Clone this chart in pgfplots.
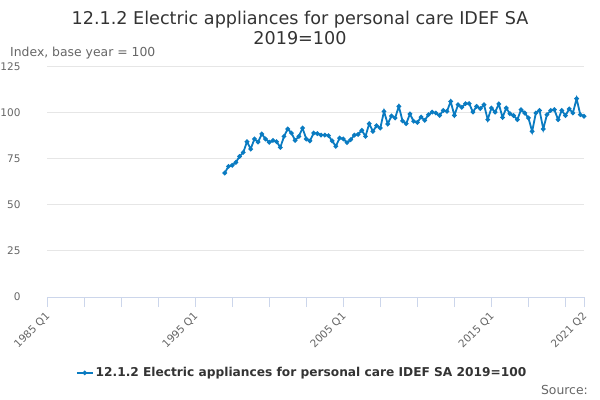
\documentclass[border=0pt]{standalone}
\usepackage{fontspec}
\setmainfont{DejaVu Sans}
\usepackage{pgfplots}
\usepackage{pgfplotstable}
\pgfplotsset{compat=1.18}
\definecolor{ons}{HTML}{0A7BC1}
\definecolor{titlec}{HTML}{333333}
\definecolor{labelc}{HTML}{666666}
\definecolor{gridc}{HTML}{E6E6E6}
\definecolor{axisc}{HTML}{CCD6EB}
\pgfplotstableread{
x y
48 67.4
49 71.0
50 71.6
51 73.2
52 76.4
53 78.6
54 84.4
55 80.4
56 85.9
57 84.2
58 88.6
59 85.9
60 84.1
61 85.1
62 84.4
63 81.3
64 87.3
65 91.3
66 89.1
67 85.1
68 87.3
69 91.8
70 85.9
71 84.8
72 89.1
73 88.8
74 88.0
75 88.0
76 87.7
77 84.8
78 81.9
79 86.4
80 85.9
81 83.9
82 85.5
83 88.0
84 88.4
85 90.6
86 87.3
87 94.2
88 90.0
89 93.1
90 91.8
91 100.9
92 94.0
93 98.4
94 97.3
95 103.6
96 95.7
97 94.2
98 99.5
99 95.5
100 94.9
101 97.8
102 96.0
103 99.1
104 100.5
105 100.0
106 98.7
107 101.4
108 100.9
109 106.3
110 98.7
111 104.5
112 103.1
113 105.1
114 105.1
115 100.5
116 103.6
117 102.4
118 104.5
119 96.4
120 102.7
121 100.5
122 104.9
123 97.6
124 102.7
125 99.6
126 98.6
127 96.4
128 101.8
129 100.0
130 97.3
131 90.0
132 100.0
133 101.4
134 91.3
135 99.1
136 101.4
137 101.8
138 96.4
139 101.4
140 98.6
141 102.2
142 100.0
143 107.8
144 99.1
145 98.2
}\datatable
\begin{document}
\begin{tikzpicture}
\useasboundingbox (0,0) rectangle (600bp,400bp);
\begin{axis}[
  at={(47bp,103bp)}, anchor=south west,
  scale only axis, width=537bp, height=230bp,
  xmin=0, xmax=145, ymin=0, ymax=125,
  xtick={0,40,80,120,145},
  xticklabels={1985 Q1,1995 Q1,2005 Q1,2015 Q1,2021 Q2},
  minor xtick={10,20,30,50,60,70,90,100,110,130,140},
  ytick={0,25,50,75,100,125},
  /pgf/number format/assume math mode=true,
  axis x line*=bottom, axis y line*=left,
  x axis line style={draw=axisc, line width=1bp, -},
  y axis line style={draw=none},
  xtick style={draw=axisc, line width=1bp},
  minor x tick style={draw=axisc, line width=1bp},
  ytick style={draw=none},
  tick align=outside, major tick length=10bp, minor tick length=10bp,
  ymajorgrids, grid style={draw=gridc, line width=1bp},
  yticklabel style={font=\fontsize{10.5bp}{12bp}\selectfont, text=labelc, anchor=east, xshift=-13bp},
  xticklabel style={font=\fontsize{10.5bp}{12bp}\selectfont, text=labelc, xshift=3.5bp, yshift=-5bp, rotate=45, anchor=east},
  legend style={at={(0.475,-0.330)}, anchor=center, draw=none, fill=none,
    font=\bfseries\fontsize{12.2bp}{14bp}\selectfont, text=titlec},
  legend image code/.code={\draw[mark repeat=2,mark phase=2] plot coordinates {(0bp,0bp) (8bp,0bp) (16bp,0bp)};},
]
\addplot[color=ons, line width=1.8bp, mark=*, mark size=1.3bp, mark options={fill=ons, draw=ons}] table[x=x,y=y] {\datatable};
\addlegendentry{12.1.2 Electric appliances for personal care IDEF SA 2019=100}
\end{axis}
\node[anchor=base, text=titlec, font=\fontsize{17.6bp}{20bp}\selectfont] at (300bp,375bp) {12.1.2 Electric appliances for personal care IDEF SA};
\node[anchor=base, text=titlec, font=\fontsize{17.6bp}{20bp}\selectfont] at (300bp,355.5bp) {2019=100};
\node[anchor=base west, text=labelc, font=\fontsize{12.4bp}{14bp}\selectfont, inner sep=0pt] at (10bp,343bp) {Index, base year = 100};
\node[anchor=base east, text=labelc, font=\fontsize{12.4bp}{14bp}\selectfont, inner sep=0pt] at (588bp,6bp) {Source:};
\end{tikzpicture}
\end{document}
